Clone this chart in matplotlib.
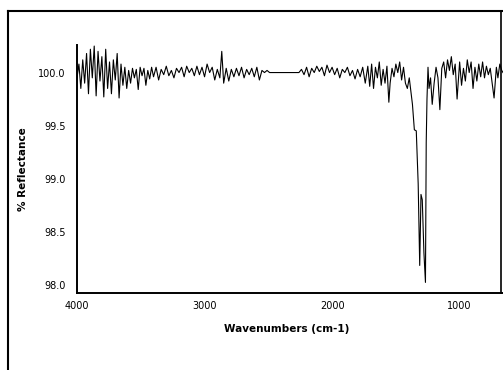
import matplotlib
matplotlib.use("Agg")
import matplotlib.pyplot as plt
from matplotlib.lines import Line2D

# spectrum, as (wavenumber cm-1, % reflectance) pairs
noisy_start = [(4000, 99.95), (3985, 100.08), (3970, 99.85), (3955, 100.12),
               (3940, 99.90), (3925, 100.18), (3910, 99.80), (3895, 100.22),
               (3880, 99.95), (3865, 100.25), (3850, 99.78), (3835, 100.20),
               (3820, 99.92), (3805, 100.15), (3790, 99.77), (3775, 100.22),
               (3760, 99.85), (3745, 100.10), (3730, 99.80), (3715, 100.12),
               (3700, 99.93), (3685, 100.18), (3670, 99.76), (3655, 100.08),
               (3640, 99.88), (3625, 100.05), (3610, 99.85), (3595, 100.02),
               (3580, 99.90), (3565, 100.04), (3550, 99.95), (3535, 100.03),
               (3520, 99.84), (3505, 100.05), (3490, 99.97), (3475, 100.04),
               (3460, 99.88), (3445, 100.02), (3430, 99.94), (3415, 100.05)]
middle = [(3400, 99.96), (3380, 100.05), (3360, 99.93), (3340, 100.03),
          (3320, 99.98), (3300, 100.06), (3280, 99.97), (3260, 100.02),
          (3240, 99.95), (3220, 100.04), (3200, 100.00), (3180, 100.05),
          (3160, 99.96), (3140, 100.06), (3120, 100.00), (3100, 100.04),
          (3080, 99.97), (3060, 100.06), (3040, 99.98), (3020, 100.05),
          (3000, 99.96), (2980, 100.08), (2960, 100.00), (2940, 100.05),
          (2920, 99.93), (2900, 100.03), (2880, 99.95), (2865, 100.20),
          (2850, 99.90), (2830, 100.04), (2810, 99.92), (2790, 100.03),
          (2770, 99.96), (2750, 100.04), (2730, 99.97), (2710, 100.05),
          (2690, 99.95), (2670, 100.03), (2650, 99.98), (2630, 100.04),
          (2610, 99.96), (2590, 100.05), (2570, 99.93), (2550, 100.02),
          (2530, 100.00), (2510, 100.02), (2490, 100.00), (2260, 100.00)]
before_band = [(2240, 100.03), (2220, 99.98), (2200, 100.05), (2180, 99.96),
               (2160, 100.04), (2140, 100.00), (2120, 100.06), (2100, 100.01),
               (2080, 100.05), (2060, 99.97), (2040, 100.07), (2020, 100.00),
               (2000, 100.05), (1980, 99.98), (1960, 100.04), (1940, 99.95),
               (1920, 100.03), (1900, 100.00), (1880, 100.05), (1860, 99.97),
               (1840, 100.02), (1820, 99.94), (1800, 100.03), (1780, 99.96),
               (1760, 100.05), (1740, 99.90), (1720, 100.06), (1705, 99.87),
               (1690, 100.08), (1675, 99.85), (1660, 100.05), (1645, 99.95),
               (1630, 100.10), (1615, 99.88), (1600, 100.03), (1585, 99.90),
               (1570, 100.06), (1555, 99.72), (1545, 99.90), (1530, 100.04),
               (1515, 99.96), (1500, 100.08), (1485, 100.00), (1470, 100.10),
               (1455, 99.93), (1440, 100.05), (1425, 99.90), (1410, 99.85),
               (1395, 99.95), (1380, 99.80)]
band = [(1370, 99.70), (1355, 99.46), (1340, 99.45), (1325, 98.95),
        (1313, 98.18), (1303, 98.85), (1293, 98.80), (1280, 98.30),
        (1268, 98.02), (1262, 99.34), (1256, 99.75), (1248, 100.05)]
noisy_end = [(1240, 99.85), (1228, 99.95), (1215, 99.70), (1200, 99.90),
             (1185, 100.05), (1170, 99.95), (1155, 99.65), (1140, 100.04),
             (1125, 100.10), (1110, 99.95), (1095, 100.12), (1080, 100.02),
             (1065, 100.15), (1050, 99.98), (1035, 100.08), (1020, 99.75),
             (1000, 100.10), (985, 99.88), (970, 100.04), (955, 99.92),
             (940, 100.12), (925, 100.00), (910, 100.10), (895, 99.85),
             (880, 100.05), (865, 99.92), (850, 100.08), (835, 99.96),
             (820, 100.10), (805, 99.95), (790, 100.06), (775, 99.98),
             (760, 100.04), (745, 99.90), (730, 99.76), (712, 100.05),
             (700, 99.95), (685, 100.08), (670, 100.02), (660, 100.00)]

yticks = [100.0, 99.5, 99.0, 98.5, 98.0]
ylabels = ["100.0", "99.5", "99.0", "98.5", "98.0"]
xticks = [4000, 3000, 2000, 1000]

spectrum = noisy_start + middle + before_band + band + noisy_end
wn = [p[0] for p in spectrum]
refl = [p[1] for p in spectrum]

fig = plt.figure(figsize=(5.03, 3.70), dpi=100)
ax = fig.add_axes([77/503, 77/370, 426/503, 248/370])
ax.plot(wn, refl, color="black", lw=0.8)
ax.set_xlim(4000, 660)
ax.set_ylim(97.92, 100.26)
ax.set_yticks(yticks)
ax.set_yticklabels(ylabels)
ax.set_xticks(xticks)
ax.tick_params(length=0, labelsize=7)
ax.tick_params(axis="y", pad=8)
ax.tick_params(axis="x", pad=6)
ax.spines["top"].set_visible(False)
ax.spines["right"].set_visible(False)
ax.spines["left"].set_linewidth(1.4)
ax.spines["bottom"].set_linewidth(1.4)
ax.set_xlabel("Wavenumbers (cm-1)", fontsize=7.5, fontweight="bold")
ax.set_ylabel("% Reflectance", fontsize=7.5, fontweight="bold")
ax.xaxis.set_label_coords(0.493, -0.125)
ax.yaxis.set_label_coords(-0.115, 0.5)

# outer frame of the scanned page
fig.add_artist(Line2D([8/503, 8/503], [0, 359/370], color="black", lw=1.5))
fig.add_artist(Line2D([8/503, 1], [359/370, 359/370], color="black", lw=1.5))
fig.add_artist(Line2D([501/503, 501/503], [77/370, 359/370], color="black", lw=1.2))

fig.savefig("out.png", dpi=100)
